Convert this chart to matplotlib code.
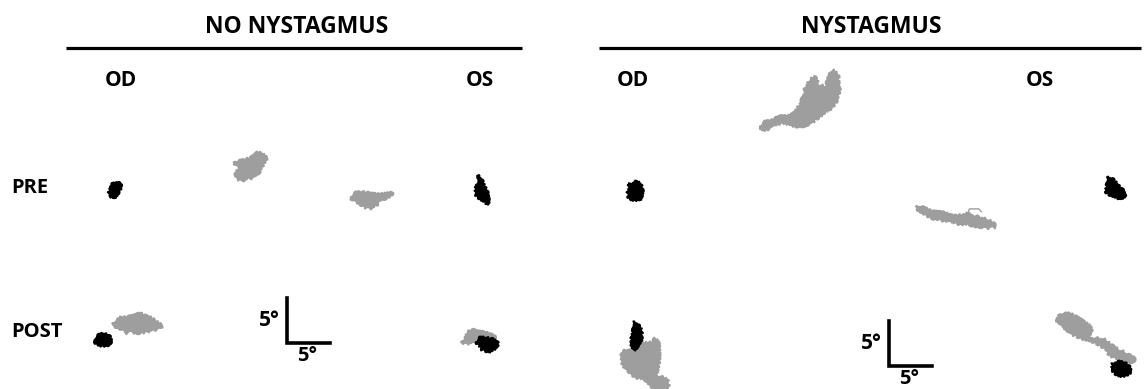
import matplotlib
matplotlib.use("Agg")
import matplotlib.pyplot as plt

# fixation traces, degrees relative to each fixation centre (x right, y up)
# NO NYSTAGMUS, PRE
nn_pre_od_x = [-0.2, 0.3, 0.8, 0.6, 0.3, 0.0, -0.5, -0.7, -0.5, -0.3]
nn_pre_od_y = [0.7, 0.8, 0.3, -0.1, -0.5, -0.9, -0.8, -0.3, 0.1, 0.5]
nn_pre_g1_x = [-1.9, -1.4, -0.3, 0.3, 0.9, 1.5, 2.0, 1.7, 1.4, 1.1, 0.6, -0.3, -0.9, -1.5, -1.7, -1.4, -1.5]
nn_pre_g1_y = [0.5, 0.6, 0.9, 1.1, 1.6, 1.4, 1.0, 0.6, 0.0, -0.6, -1.1, -1.3, -1.5, -1.3, -0.7, -0.3, 0.0]
nn_pre_g2_x = [-2.5, -1.9, -1.1, -0.2, 0.7, 1.7, 2.5, 2.0, 1.1, 0.6, 0.0, -0.8, -1.6, -2.3]
nn_pre_g2_y = [0.3, 0.8, 0.9, 0.7, 0.6, 0.7, 0.8, 0.3, 0.0, -0.5, -0.9, -0.8, -0.3, -0.1]
nn_pre_os_x = [-0.2, 0.1, 0.3, 0.7, 0.8, 0.9, 0.8, 0.5, 0.0, -0.5, -0.7, -0.6, -0.3, -0.5]
nn_pre_os_y = [1.6, 1.1, 0.6, 0.0, -0.6, -1.1, -1.6, -1.3, -1.0, -0.7, -0.2, 0.3, 0.8, 1.3]

# NO NYSTAGMUS, POST
nn_post_od_x = [-1.0, -0.6, 0.0, 0.6, 0.9, 0.9, 0.5, -0.3, -0.9]
nn_post_od_y = [0.0, 0.5, 0.7, 0.6, 0.2, -0.3, -0.6, -0.6, -0.3]
nn_post_g1_x = [-2.8, -2.3, -1.9, -0.8, 0.0, 0.3, 0.7, 1.5, 2.3, 2.6, 3.0, 2.4, 1.7, 0.9, 0.0, -0.8, -1.4, -1.7, -2.3, -2.7]
nn_post_g1_y = [0.0, 0.3, 0.6, 0.7, 0.9, 1.1, 0.9, 0.6, 0.2, 0.0, -0.5, -0.7, -0.8, -1.0, -1.1, -1.0, -1.1, -0.7, -0.5, -0.3]
nn_post_g2_x = [-2.2, -1.7, -1.4, -0.9, -0.3, 0.6, 1.5, 1.9, 1.1, 0.0, -0.8, -1.5]
nn_post_g2_y = [-0.6, -0.2, 0.6, 0.8, 0.6, 0.5, 0.2, -0.1, -0.2, -0.3, -0.6, -0.7]
nn_post_os_x = [-1.3, -0.8, 0.0, 0.7, 1.3, 1.1, 0.3, -0.5, -0.8, -1.1]
nn_post_os_y = [0.3, 0.8, 0.8, 0.6, 0.2, -0.3, -0.7, -0.6, -0.2, 0.1]

# NYSTAGMUS, PRE
ny_pre_g1_x = [-4.7, -4.1, -3.3, -2.3, -1.4, -0.6, 0.0, 0.3, 0.6, 1.2, 1.7, 2.3, 3.0, 3.5, 4.0, 4.5, 4.7,
               4.4, 3.7, 2.9, 2.1, 1.2, 0.0, -1.2, -2.3, -3.3, -4.4]
ny_pre_g1_y = [-2.9, -2.4, -2.2, -1.8, -1.8, -1.4, -0.5, 0.3, 1.3, 2.2, 2.6, 1.6, 1.5, 2.8, 3.3, 2.6, 1.3,
               0.0, -0.9, -1.3, -2.0, -2.6, -3.0, -2.7, -2.5, -3.0, -3.4]
ny_pre_od_x = [-0.6, 0.1, 0.7, 0.9, 0.8, 0.6, -0.1, -0.7, -0.9, -0.7, -0.8]
ny_pre_od_y = [0.8, 1.0, 0.8, 0.2, -0.5, -0.9, -1.0, -0.8, -0.3, 0.1, 0.5]
ny_pre_os_x = [-0.8, -0.2, 0.2, 0.6, 1.0, 1.3, 0.7, 0.0, -0.6, -1.0, -0.9, -0.7]
ny_pre_os_y = [1.1, 0.9, 0.5, 0.1, -0.3, -1.0, -1.3, -1.0, -0.8, -0.5, 0.1, 0.6]
ny_pre_g2_x = [-4.5, -3.6, -2.5, -1.4, -0.2, 0.8, 1.5, 2.8, 3.8, 4.5, 4.8, 3.6, 2.5, 1.4, 0.2, -0.9, -1.9,
               -2.8, -3.8, -4.3]
ny_pre_g2_y = [1.3, 1.1, 0.7, 0.6, 0.2, 0.3, 0.5, 0.1, -0.2, -0.5, -1.0, -1.1, -0.9, -0.7, -0.6, -0.3, -0.2,
               0.0, 0.6, 0.8]
ny_pre_hook_x = [1.5, 1.7, 2.8, 3.1]
ny_pre_hook_y = [0.5, 1.0, 1.0, 0.7]

# NYSTAGMUS, POST
ny_post_od_x = [-0.3, 0.1, 0.5, 0.7, 0.6, 0.2, 0.1, -0.3, -0.5, -0.5, -0.3]
ny_post_od_y = [1.6, 1.4, 0.9, 0.3, -0.5, -1.0, -1.4, -1.5, -1.0, -0.1, 0.9]
ny_post_g1_x = [-0.9, 0.0, 0.8, 1.2, 1.6, 1.7, 1.6, 1.3, 1.9, 2.6, 2.8, 2.4, 1.2, 0.7, 0.0, -0.9, -1.7,
                -2.4, -2.8, -2.7, -2.1, -1.5]
ny_post_g1_y = [2.0, 2.4, 2.5, 2.9, 2.4, 1.3, -0.2, -1.1, -1.3, -1.5, -2.4, -3.0, -3.0, -2.2, -1.6, -1.4,
                -1.0, -0.3, 0.5, 1.4, 1.7, 1.4]
ny_post_g2_x = [-4.4, -3.1, -1.9, -0.8, -0.6, -1.4, -0.2, 0.9, 2.0, 3.5, 4.5, 4.1, 2.8, 1.5, 0.9, 0.0, -1.0,
                -2.0, -3.1, -4.0, -4.8]
ny_post_g2_y = [2.6, 2.7, 2.0, 1.3, 0.6, 0.1, 0.0, -0.2, -1.0, -1.7, -2.3, -2.8, -2.5, -1.9, -1.1, -0.6,
                -0.2, 0.0, 0.5, 1.3, 2.0]
ny_post_os_x = [-1.0, -0.5, 0.5, 1.1, 1.0, 0.1, -0.7, -1.1]
ny_post_os_y = [0.6, 0.8, 0.7, 0.1, -0.5, -0.8, -0.5, 0.0]

group_titles = ["NO NYSTAGMUS", "NYSTAGMUS"]
eye_labels = ["OD", "OS"]
row_labels = ["PRE", "POST"]
scale_deg = 5

# layout (figure pixels)
W, H = 1146, 389
PX_X, PX_Y = 8.5, 9.1  # pixels per degree
GRAY = "#9e9e9e"

fig = plt.figure(figsize=(W / 100, H / 100), dpi=100)
ax = fig.add_axes([0, 0, 1, 1])
ax.set_xlim(0, W)
ax.set_ylim(H, 0)
ax.axis("off")

font = dict(family=["Open Sans", "DejaVu Sans"], fontweight="bold", color="black")

# headers
for title, cx, x0, x1 in zip(group_titles, [297, 871], [66, 599], [522, 1141]):
    ax.text(cx, 27, title, ha="center", va="center", fontsize=16.5, **font)
    ax.plot([x0, x1], [48, 48], color="black", lw=2.3, solid_capstyle="butt")
for lbl, xs in zip(eye_labels, [[121, 633], [480, 1040]]):
    for x in xs:
        ax.text(x, 80, lbl, ha="center", va="center", fontsize=15, **font)
for lbl, y in zip(row_labels, [188, 332]):
    ax.text(11, y, lbl, ha="left", va="center", fontsize=14.5, **font)

# traces: (x, y, colour, centre)
traces = [
    (nn_pre_od_x, nn_pre_od_y, "black", (115, 189)),
    (nn_pre_g1_x, nn_pre_g1_y, GRAY, (250, 167)),
    (nn_pre_g2_x, nn_pre_g2_y, GRAY, (372, 200)),
    (nn_pre_os_x, nn_pre_os_y, "black", (481, 190)),
    (nn_post_g1_x, nn_post_g1_y, GRAY, (137, 323)),
    (nn_post_od_x, nn_post_od_y, "black", (103, 340)),
    (nn_post_g2_x, nn_post_g2_y, GRAY, (480, 337)),
    (nn_post_os_x, nn_post_os_y, "black", (487, 345)),
    (ny_pre_g1_x, ny_pre_g1_y, GRAY, (800, 100)),
    (ny_pre_od_x, ny_pre_od_y, "black", (635, 191)),
    (ny_pre_os_x, ny_pre_os_y, "black", (1114, 187)),
    (ny_pre_g2_x, ny_pre_g2_y, GRAY, (955, 218)),
    (ny_post_g1_x, ny_post_g1_y, GRAY, (645, 365)),
    (ny_post_od_x, ny_post_od_y, "black", (636, 336)),
    (ny_post_g2_x, ny_post_g2_y, GRAY, (1097, 338)),
    (ny_post_os_x, ny_post_os_y, "black", (1121, 369)),
]
for xs, ys, c, (cx, cy) in traces:
    px = [cx + v * PX_X for v in xs]
    py = [cy - v * PX_Y for v in ys]
    patches = ax.fill(px, py, color=c, lw=1.6, ec=c, joinstyle="round")
    # sketch style gives the ragged edge of a dense eye-position trace
    for p in patches:
        p.set_sketch_params(1.3, 3, 4)

hx = [955 + v * PX_X for v in ny_pre_hook_x]
hy = [218 - v * PX_Y for v in ny_pre_hook_y]
ax.plot(hx, hy, color=GRAY, lw=1)

# scale bars
for bx, by in [(287, 343), (889, 366)]:
    ax.plot([bx, bx, bx + scale_deg * PX_X], [by - scale_deg * PX_Y, by, by],
            color="black", lw=2.6, solid_joinstyle="miter")
    ax.text(bx - 18, by - 17, "5°", ha="center", va="baseline", fontsize=15, **font)
    ax.text(bx + 20, by + 18, "5°", ha="center", va="baseline", fontsize=14.5, **font)

fig.savefig("out.png", dpi=100, facecolor="white")
